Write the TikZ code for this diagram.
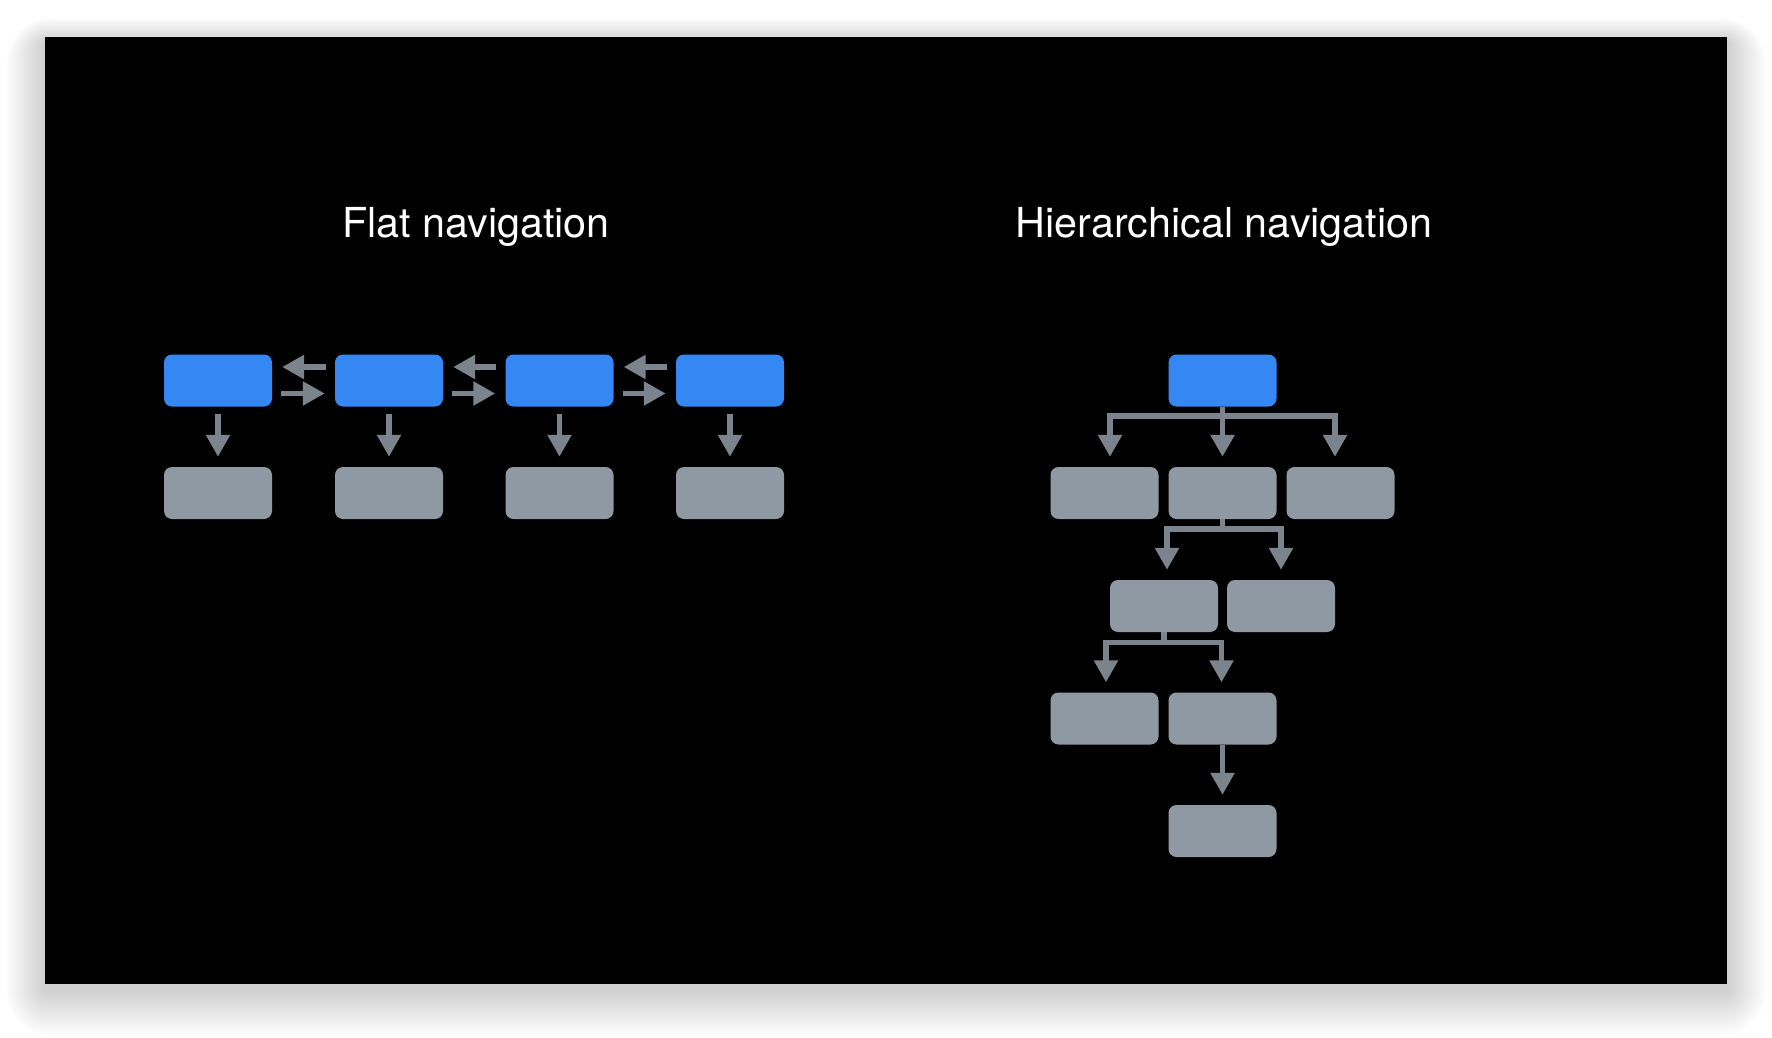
\documentclass[tikz,border=0pt]{standalone}
\usepackage{fontspec}
\setmainfont{TeX Gyre Heros}
\usetikzlibrary{arrows.meta,calc}
\definecolor{navblue}{HTML}{3587F4}
\definecolor{navgray}{HTML}{8E99A4}
\definecolor{arrgray}{HTML}{7B838C}
\tikzset{
  bluebox/.style={fill=navblue, rounded corners=8pt, minimum width=108pt, minimum height=52pt, inner sep=0pt},
  graybox/.style={fill=navgray, rounded corners=8pt, minimum width=108pt, minimum height=52pt, inner sep=0pt},
  conn/.style={draw=arrgray, line width=5.5pt},
  arr/.style={conn, -{Triangle[width=23pt,length=22pt]}, shorten >=10pt},
  title/.style={text=white, font=\fontsize{41.3}{48}\selectfont, anchor=base, inner sep=0pt}
}
\begin{document}
\begin{tikzpicture}[x=1pt,y=-1pt]
\useasboundingbox (0,0) rectangle (1772,1038);
\fill[white] (0,0) rectangle (1772,1038);
% soft shadow
\foreach \r in {46,44,...,2}{
  \fill[black, opacity=0.008, rounded corners=\r pt] (45-\r*0.85,37-\r*0.55+6) rectangle (1727+\r*0.85,984+\r*1.0+6);
}
\fill[black] (45,37) rectangle (1727,984);

% titles
\node[title] (tflat) at (476,237) {Flat navigation};
\node[title] (thier) at (1224,237) {Hierarchical navigation};

% flat navigation
\foreach \i/\x in {1/218,2/389,3/559.5,4/730}{
  \node[bluebox] (f\i) at (\x,380.5) {};
  \node[graybox] (g\i) at (\x,493) {};
  \draw[arr, shorten <=7pt] (f\i.south) -- (g\i.north);
}
\foreach \a/\b in {1/2,2/3,3/4}{
  \draw[arr, shorten <=9pt] ($(f\b.west)+(0,-13.5)$) -- ($(f\a.east)+(0,-13.5)$);
  \draw[arr, shorten <=9pt] ($(f\a.east)+(0,13)$) -- ($(f\b.west)+(0,13)$);
}

% hierarchical navigation
\node[bluebox] (root) at (1222.5,380.5) {};
\node[graybox] (h2a) at (1104.5,493) {};
\node[graybox] (h2b) at (1222.5,493) {};
\node[graybox] (h2c) at (1340.5,493) {};
\node[graybox] (h3a) at (1164,606) {};
\node[graybox] (h3b) at (1281,606) {};
\node[graybox] (h4a) at (1104.5,718.5) {};
\node[graybox] (h4b) at (1222.5,718.5) {};
\node[graybox] (h5) at (1222.5,831) {};

\draw[conn] (root.south) -- ++(0,9.5) coordinate (j1);
\draw[arr] (j1) -| ($(h2a.north)+(5.5,0)$);
\draw[arr] (j1) -- (h2b.north);
\draw[arr] (j1) -| ($(h2c.north)+(-5.5,0)$);

\draw[conn] (h2b.south) -- ++(0,10) coordinate (j2);
\draw[arr] (j2) -| ($(h3a.north)+(3,0)$);
\draw[arr] (j2) -| (h3b.north);

\draw[conn] (h3a.south) -- ++(0,10.5) coordinate (j3);
\draw[arr] (j3) -| ($(h4a.north)+(1.5,0)$);
\draw[arr] (j3) -| ($(h4b.north)+(-1,0)$);

\draw[arr] (h4b.south) -- (h5.north);
\end{tikzpicture}
\end{document}
